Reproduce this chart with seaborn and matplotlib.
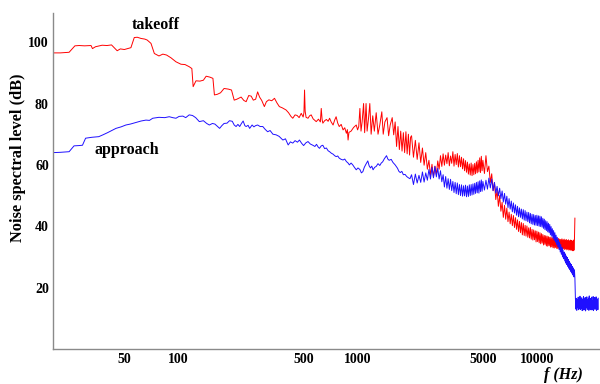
import numpy as np
import pandas as pd
import matplotlib
matplotlib.use("Agg")
import matplotlib.pyplot as plt
import seaborn as sns
from matplotlib.ticker import (FixedLocator, FixedFormatter, LogLocator,
                               NullFormatter, MultipleLocator)

# ---------------- takeoff spectrum ----------------
# resolved low-frequency part (Hz / dB)
takeoff_freq_lo = [
    20, 22, 24.6, 26.5, 28, 30, 32.6, 33.2, 34.5, 37.6, 40, 42.4, 45.6, 47.5, 50,
    54.4, 56.8, 59, 62, 65, 67, 70.4, 73.5, 78, 82, 86, 91, 97, 103.5, 109, 115,
    119, 121, 125.5, 132, 138, 143, 150, 156, 159, 165, 172, 180, 190, 198, 205,
    212, 224, 232, 239, 247, 255, 262, 270, 277, 284, 292, 302, 310, 320, 332,
    344, 355, 366, 380, 399, 412, 425, 435, 448, 460, 472, 485, 497, 502, 506,
    510, 516, 529, 540, 551, 565, 588, 605, 620, 627, 634, 640, 655, 670, 685,
    698, 712, 730, 745, 759, 775, 790, 810, 830, 848, 866, 877, 885, 895, 920,
    950, 983, 1000, 1015, 1030, 1045, 1060, 1080, 1095, 1115, 1130, 1150, 1170,
    1190, 1215, 1240, 1270, 1300, 1330, 1365, 1390, 1420, 1460, 1490, 1520,
    1560, 1590, 1620, 1650, 1680, 1710, 1740, 1770, 1800, 1830, 1860, 1890,
    1920, 1950, 1975,
]
takeoff_db_lo = [
    96.5, 96.5, 96.7, 98.8, 98.9, 98.8, 98.9, 97.9, 98.5, 99.0, 98.9, 99.1, 97.2,
    97.8, 97.6, 98.2, 101.5, 101.6, 101.2, 101.0, 100.7, 99.6, 96.3, 95.5, 96.1,
    95.8, 94.9, 93.6, 92.8, 92.7, 92.0, 91.4, 85.5, 87.4, 87.3, 87.6, 88.9, 88.6,
    88.2, 82.8, 83.0, 83.5, 84.9, 84.7, 84.4, 81.1, 81.4, 82.1, 81.0, 80.6, 82.6,
    82.4, 81.1, 81.4, 83.8, 82.1, 81.0, 79.0, 80.6, 81.2, 80.9, 81.7, 80.2, 79.0,
    78.6, 77.9, 77.0, 75.8, 75.2, 76.3, 76.1, 75.4, 76.8, 75.6, 77.0, 84.4, 77.5,
    75.5, 75.2, 76.0, 76.3, 75.0, 74.1, 74.9, 74.0, 78.4, 74.8, 73.6, 74.4, 74.8,
    74.2, 75.2, 74.0, 73.0, 74.6, 75.7, 73.6, 72.5, 73.2, 71.4, 72.1, 70.3, 71.5,
    68.1, 70.6, 71.0, 72.2, 73.0, 71.4, 72.5, 78.4, 71.0, 74.0, 80.0, 70.5, 80.0,
    71.0, 75.0, 80.0, 70.0, 76.0, 71.0, 77.0, 70.0, 73.0, 77.3, 70.0, 74.0, 75.4,
    69.5, 73.0, 75.4, 69.8, 74.0, 66.0, 72.5, 65.0, 71.0, 64.5, 70.5, 64.0, 70.8,
    63.6, 70.0, 63.2, 69.0,
]
# FFT bins 2000-4950 Hz (50 Hz spacing)
takeoff_db_mid = [
    69.5, 62.5, 68.0, 61.8, 67.2, 60.8, 65.5, 59.9, 64.0, 58.6,
    61.5, 56.6, 60.2, 56.0, 59.6, 56.8, 61.3, 58.6, 63.0, 59.5,
    63.6, 59.9, 63.2, 60.4, 64.0, 59.7, 62.9, 60.5, 64.3, 59.6,
    63.4, 60.1, 63.7, 59.3, 63.0, 59.4, 62.5, 58.7, 62.0, 58.1,
    61.4, 57.6, 60.9, 57.0, 60.3, 56.7, 60.6, 56.5, 60.1, 56.8,
    60.5, 57.1, 61.0, 57.4, 61.5, 57.7, 62.3, 57.5, 62.8, 58.1,
]
# FFT bins 5000-16300 Hz (100 Hz spacing)
takeoff_db_hi = [
    61.5, 57.2, 63.0, 57.8, 59.6, 54.3, 57.1, 51.6, 54.2, 48.7,
    51.8, 46.5, 50.0, 44.9, 47.8, 42.9, 46.8, 42.3, 45.9, 41.5,
    44.6, 40.8, 43.9, 40.2, 43.5, 39.6, 42.8, 39.0, 42.1, 38.3,
    41.6, 37.9, 41.2, 37.2, 40.9, 37.0, 40.3, 36.8, 40.1, 36.4,
    39.5, 36.2, 39.6, 35.8, 39.0, 35.5, 38.8, 35.6, 38.5, 34.9,
    38.4, 35.0, 38.1, 34.6, 37.9, 34.3, 37.6, 34.5, 37.3, 33.9,
    37.0, 34.1, 36.9, 33.6, 36.8, 33.5, 36.6, 33.7, 36.4, 33.2,
    36.5, 33.3, 36.2, 33.0, 36.3, 32.9, 36.0, 33.1, 36.1, 32.8,
    35.9, 32.7, 36.0, 32.9, 35.8, 32.6, 35.7, 32.8, 35.9, 32.5,
    35.6, 32.7, 35.8, 32.4, 35.5, 32.6, 35.7, 32.3, 35.4, 32.5,
    35.6, 32.2, 35.3, 32.4, 35.5, 32.1, 35.4, 32.3, 35.2, 32.0,
    35.5, 32.2, 35.3, 42.7,
]

# ---------------- approach spectrum ----------------
approach_freq_lo = [
    20, 22, 24.6, 26.2, 28, 29.2, 30.4, 33, 36, 38, 40.3, 42.5, 44.9, 48, 51, 54,
    58, 62, 66, 69, 72, 78, 84, 89, 93, 97, 101, 106, 110, 115, 120, 125, 131,
    138, 144, 149, 155, 160, 165, 170, 175, 180, 187, 193, 200, 205, 210, 215,
    220, 225, 230, 235, 239, 245, 250, 258, 264, 270, 277, 286, 296, 305, 315,
    325, 337, 351, 365, 383, 396, 410, 422, 435, 448, 462, 474, 488, 500, 515,
    529, 545, 563, 578, 590, 603, 613, 627, 640, 655, 670, 685, 698, 714, 730,
    745, 759, 775, 790, 810, 830, 848, 866, 885, 900, 920, 940, 960, 983, 1005,
    1030, 1050, 1070, 1090, 1110, 1140, 1160, 1180, 1200, 1220, 1245, 1270,
    1300, 1330, 1355, 1380, 1410, 1450, 1475, 1500, 1540, 1575, 1620, 1670,
    1700, 1730, 1765, 1800, 1840, 1880, 1920, 1960,
]
approach_db_lo = [
    64.0, 64.1, 64.3, 66.2, 66.3, 66.4, 68.7, 69.0, 69.2, 69.8, 70.5, 71.2, 71.9,
    72.4, 73.0, 73.3, 73.8, 74.3, 74.6, 74.5, 75.2, 75.5, 75.4, 75.7, 75.4, 75.2,
    75.8, 75.9, 75.4, 76.3, 76.1, 75.4, 74.1, 74.4, 73.5, 73.0, 73.5, 73.3, 72.6,
    71.9, 72.8, 73.5, 73.6, 74.4, 74.2, 73.0, 72.5, 73.2, 72.5, 73.5, 74.3, 72.8,
    72.5, 72.9, 71.9, 73.0, 72.4, 72.8, 73.0, 72.5, 72.5, 71.6, 70.8, 71.2, 70.0,
    69.8, 69.3, 68.1, 68.5, 66.5, 67.5, 67.1, 67.9, 67.4, 68.1, 67.0, 66.3, 67.2,
    67.6, 66.8, 66.4, 66.0, 66.7, 65.8, 65.4, 66.2, 66.4, 65.3, 65.5, 64.6, 64.3,
    63.8, 63.5, 63.0, 62.7, 62.9, 62.2, 61.8, 61.6, 61.9, 61.1, 60.6, 60.0, 60.6,
    60.0, 59.2, 58.4, 59.0, 58.5, 57.4, 57.8, 59.2, 60.1, 61.3, 59.7, 59.0, 59.6,
    58.4, 59.2, 59.5, 60.4, 59.8, 60.6, 61.0, 62.0, 63.0, 61.9, 61.5, 61.8, 60.8,
    60.0, 58.9, 57.9, 57.5, 57.9, 56.8, 56.9, 56.2, 55.8, 55.5,
]
# FFT bins 2000-4950 Hz (50 Hz spacing)
approach_db_mid = [
    56.8, 53.6, 57.0, 54.1, 56.6, 54.3, 57.7, 54.4, 57.4, 55.0,
    58.5, 55.4, 59.2, 55.8, 59.5, 56.1, 58.9, 55.4, 58.1, 54.5,
    56.8, 52.8, 56.2, 52.4, 55.5, 52.0, 55.3, 51.6, 54.6, 51.0,
    54.3, 50.6, 54.1, 50.3, 53.6, 50.0, 53.5, 49.8, 53.2, 49.9,
    53.4, 49.6, 53.1, 49.7, 53.5, 50.0, 53.6, 50.2, 53.8, 50.4,
    54.0, 50.7, 54.3, 50.9, 54.5, 50.8, 54.8, 51.3, 55.1, 51.4,
]
# FFT bins 5000-22000 Hz (100 Hz spacing)
approach_db_hi = [
    54.6, 51.8, 55.0, 52.1, 55.7, 52.5, 55.4, 51.6, 54.3, 50.8,
    53.0, 49.9, 52.4, 49.0, 51.5, 47.9, 50.7, 47.2, 49.8, 46.1,
    49.0, 45.6, 48.2, 44.7, 47.6, 44.3, 47.0, 43.6, 46.5, 43.1,
    46.0, 42.9, 45.6, 42.4, 45.4, 42.0, 45.1, 41.8, 44.6, 41.5,
    44.5, 41.1, 44.2, 40.8, 43.9, 40.6, 43.8, 40.4, 43.5, 40.3,
    43.6, 40.2, 43.4, 40.0, 43.3, 39.9, 43.1, 39.7, 42.6, 39.3,
    42.3, 38.9, 41.8, 38.6, 41.5, 38.2, 41.0, 37.9, 40.6, 37.2,
    39.9, 36.8, 39.2, 36.1, 38.6, 35.4, 37.9, 34.8, 37.1, 34.0,
    36.4, 33.3, 35.6, 32.4, 34.8, 31.6, 34.0, 30.9, 33.1, 30.0,
    32.3, 29.4, 31.6, 28.7, 31.0, 28.0, 30.3, 27.5, 29.8, 26.9,
    29.2, 26.3, 28.6, 25.8, 28.0, 25.2, 27.5, 24.7, 26.9, 24.1,
    26.4, 23.5, 25.8, 23.1, 16.8, 13.0, 16.5, 12.6, 16.2, 13.4,
    16.9, 12.8, 15.8, 13.1, 17.2, 12.9, 16.4, 13.3, 16.7, 12.5,
    16.0, 13.6, 17.1, 12.7, 16.3, 13.0, 16.8, 12.4, 15.9, 13.5,
    17.0, 12.9, 16.1, 13.2, 16.6, 12.6, 17.3, 13.1, 16.0, 12.8,
    16.5, 13.4, 16.9, 12.7, 15.7, 13.0, 17.1, 12.5, 16.3, 13.6,
    16.8, 12.9, 16.2, 13.3, 17.0, 12.6, 16.4, 13.1, 15.9, 12.8,
    16.6,
]

y_ticks = [20, 40, 60, 80, 100]
x_ticks = [50, 100, 500, 1000, 5000, 10000]
x_tick_labels = ["50", "100", "500", "1000", "5000", "10000"]

takeoff = pd.DataFrame({
    "freq": np.concatenate([takeoff_freq_lo,
                            np.arange(2000, 5000, 50),
                            np.arange(5000, 16400, 100)]),
    "level": np.concatenate([takeoff_db_lo, takeoff_db_mid, takeoff_db_hi]),
})
approach = pd.DataFrame({
    "freq": np.concatenate([approach_freq_lo,
                            np.arange(2000, 5000, 50),
                            np.arange(5000, 22100, 100)]),
    "level": np.concatenate([approach_db_lo, approach_db_mid, approach_db_hi]),
})

sns.set_theme(style="white")
plt.rcParams["font.family"] = ["Liberation Serif", "DejaVu Serif"]
plt.rcParams["text.color"] = "black"

W, H = 600, 384
fig = plt.figure(figsize=(W / 100, H / 100), dpi=100)
ax = fig.add_axes([53 / W, 1 - 349 / H, 547 / W, (349 - 13) / H])

sns.lineplot(data=takeoff, x="freq", y="level", color="#ff0000", lw=0.7,
             estimator=None, sort=False, ax=ax)
sns.lineplot(data=approach, x="freq", y="level", color="#1f10ff", lw=0.7,
             estimator=None, sort=False, ax=ax)

ax.set_xscale("log")
ax.set_xlim(20, 22500)
ax.set_ylim(0, 109.5)
ax.set_xlabel("")
ax.set_ylabel("")

ax.xaxis.set_major_locator(FixedLocator(x_ticks))
ax.xaxis.set_major_formatter(FixedFormatter(x_tick_labels))
ax.xaxis.set_minor_locator(LogLocator(base=10, subs=np.arange(1, 10)))
ax.xaxis.set_minor_formatter(NullFormatter())
ax.yaxis.set_major_locator(FixedLocator(y_ticks))
ax.yaxis.set_minor_locator(MultipleLocator(5))

ax.tick_params(which="both", direction="in", color="#8a8a8a", width=0.8,
               labelsize=10, labelcolor="black", pad=3)
ax.tick_params(which="major", length=3.5)
ax.tick_params(which="minor", length=2.2)
for lbl in ax.get_xticklabels() + ax.get_yticklabels():
    lbl.set_fontweight("bold")

for side in ("top", "right"):
    ax.spines[side].set_visible(False)
for side in ("left", "bottom"):
    ax.spines[side].set_color("#8a8a8a")
    ax.spines[side].set_linewidth(1.0)

ax.text(75, 105.5, "takeoff", ha="center", va="center", color="black",
        fontsize=11.5, fontweight="bold")
ax.text(51.6, 64.9, "approach", ha="center", va="center", color="black",
        fontsize=11.5, fontweight="bold")

fig.text(18 / W, 1 - 157.5 / H, "Noise spectral level (dB)", rotation=90,
         ha="center", va="center", fontsize=11.8, fontweight="bold",
         color="black")
fig.text(563 / W, 1 - 375 / H, "f (Hz)", ha="center", va="center",
         fontsize=11.5, fontweight="bold", style="italic", color="black")

fig.savefig("out.png", dpi=100)
